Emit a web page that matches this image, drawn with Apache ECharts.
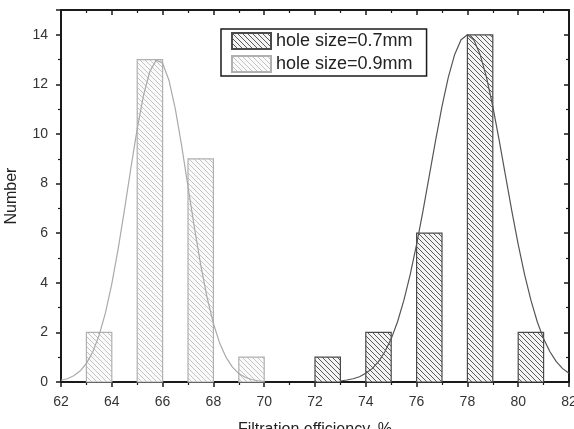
<!DOCTYPE html>
<html>
<head>
<meta charset="utf-8">
<script src="https://cdn.jsdelivr.net/npm/echarts@6/dist/echarts.min.js"></script>
<style>
html,body{margin:0;padding:0;background:#fff;}
#chart{width:574px;height:429px;}
</style>
</head>
<body>
<div id="chart"></div>
<script>
// ---- data ----
var seriesNames = ['hole size=0.7mm', 'hole size=0.9mm'];
// bins: [start, end, count]
var bins07 = [[72, 73, 1], [74, 75, 2], [76, 77, 6], [78, 79, 14], [80, 81, 2]];
var bins09 = [[63, 64, 2], [65, 66, 13], [67, 68, 9], [69, 70, 1]];
// fitted curves: [x, y]
var curve07 = [[73,0.04],[73.25,0.08],[73.5,0.13],[73.75,0.21],[74,0.35],[74.25,0.54],[74.5,0.82],[74.75,1.22],[75,1.74],[75.25,2.43],[75.5,3.30],[75.75,4.34],[76,5.55],[76.25,6.89],[76.5,8.32],[76.75,9.75],[77,11.11],[77.25,12.29],[77.5,13.21],[77.75,13.80],[78,14.0],[78.25,13.80],[78.5,13.21],[78.75,12.29],[79,11.11],[79.25,9.75],[79.5,8.32],[79.75,6.89],[80,5.55],[80.25,4.34],[80.5,3.30],[80.75,2.43],[81,1.74],[81.25,1.22],[81.5,0.82],[81.75,0.54],[82,0.35]];
var curve09 = [[62,0.07],[62.25,0.13],[62.5,0.25],[62.75,0.44],[63,0.75],[63.25,1.21],[63.5,1.88],[63.75,2.79],[64,3.96],[64.25,5.37],[64.5,6.95],[64.75,8.62],[65,10.21],[65.25,11.57],[65.5,12.53],[65.75,12.98],[66,12.85],[66.25,12.17],[66.5,11.01],[66.75,9.53],[67,7.88],[67.25,6.24],[67.5,4.72],[67.75,3.41],[68,2.36],[68.25,1.56],[68.5,0.99],[68.75,0.60],[69,0.34],[69.25,0.19],[69.5,0.10],[69.75,0.05],[70,0.02]];
var xMin = 62, xMax = 82, xInterval = 2;
var yMin = 0, yMax = 15, yInterval = 2;
var xTitle = 'Filtration efficiency, %';
var yTitle = 'Number';

// ---- styles ----
function hatch(lineColor, bg, size) {
  var c = document.createElement('canvas');
  c.width = size; c.height = size;
  var g = c.getContext('2d');
  g.fillStyle = bg; g.fillRect(0, 0, size, size);
  g.strokeStyle = lineColor; g.lineWidth = 1;
  g.beginPath();
  [-size, 0, size].forEach(function (k) {
    g.moveTo(k, 0); g.lineTo(k + size, size);
  });
  g.stroke();
  return {image: c, repeat: 'repeat'};
}
var pat07 = hatch('#5a5a5a', '#f4f4f4', 5);
var pat09 = hatch('#c4c4c4', '#fafafa', 5);
var border07 = '#4a4a4a';
var border09 = '#b0b0b0';

function barRender(params, api) {
  var p0 = api.coord([api.value(0), api.value(2)]);
  var p1 = api.coord([api.value(1), 0]);
  return {
    type: 'rect',
    shape: {x: p0[0], y: p0[1], width: p1[0] - p0[0], height: p1[1] - p0[1]},
    style: api.style()
  };
}

var axisCol = '#1a1a1a';
var font = 'Arial, "Liberation Sans", sans-serif';

var chart = echarts.init(document.getElementById('chart'), null, {renderer: 'canvas'});
chart.setOption({
  animation: false,
  backgroundColor: '#fff',
  grid: {left: 61, right: 5, top: 10, bottom: 47, containLabel: false, outerBoundsMode: 'none'},
  legend: {
    data: seriesNames,
    orient: 'vertical',
    left: 221, top: 29,
    itemWidth: 39, itemHeight: 16, itemGap: 5,
    padding: [3, 14, 3, 10],
    borderColor: '#1a1a1a', borderWidth: 1.5,
    icon: 'rect',
    textStyle: {fontFamily: font, fontSize: 18, color: '#222'}
  },
  xAxis: [{
    type: 'value', min: xMin, max: xMax, interval: xInterval,
    name: xTitle, nameLocation: 'middle', nameGap: 40,
    nameTextStyle: {fontFamily: font, fontSize: 16, color: '#222'},
    axisLine: {show: true, onZero: false, lineStyle: {color: axisCol, width: 2}},
    axisTick: {show: true, inside: false, length: 5, lineStyle: {color: axisCol, width: 1.5}},
    minorTick: {show: true, splitNumber: 2, length: 3, lineStyle: {color: axisCol, width: 1.2}},
    axisLabel: {fontFamily: font, fontSize: 14, color: '#333', margin: 13},
    splitLine: {show: false}
  }, {
    type: 'value', position: 'top', min: xMin, max: xMax, interval: xInterval,
    axisLine: {show: true, onZero: false, lineStyle: {color: axisCol, width: 2}},
    axisTick: {show: true, inside: true, length: 5, lineStyle: {color: axisCol, width: 1.5}},
    minorTick: {show: true, splitNumber: 2, length: 3, lineStyle: {color: axisCol, width: 1.2}},
    axisLabel: {show: false},
    splitLine: {show: false}
  }],
  yAxis: [{
    type: 'value', min: yMin, max: yMax, interval: yInterval,
    name: yTitle, nameLocation: 'middle', nameGap: 41,
    nameTextStyle: {fontFamily: font, fontSize: 16, color: '#222'},
    axisLine: {show: true, onZero: false, lineStyle: {color: axisCol, width: 2}},
    axisTick: {show: true, inside: false, length: 5, lineStyle: {color: axisCol, width: 1.5}},
    minorTick: {show: true, splitNumber: 2, length: 3, lineStyle: {color: axisCol, width: 1.2}},
    axisLabel: {fontFamily: font, fontSize: 14, color: '#333', margin: 13, showMaxLabel: false},
    splitLine: {show: false}
  }, {
    type: 'value', position: 'right', min: yMin, max: yMax, interval: yInterval,
    axisLine: {show: true, onZero: false, lineStyle: {color: axisCol, width: 2}},
    axisTick: {show: true, inside: true, length: 5, lineStyle: {color: axisCol, width: 1.5}},
    minorTick: {show: true, splitNumber: 2, length: 3, lineStyle: {color: axisCol, width: 1.2}},
    axisLabel: {show: false},
    splitLine: {show: false}
  }],
  series: [{
    name: seriesNames[0], type: 'custom', renderItem: barRender,
    encode: {x: [0, 1], y: 2},
    itemStyle: {color: pat07, borderColor: border07, borderWidth: 1.2},
    data: bins07, z: 2
  }, {
    name: seriesNames[1], type: 'custom', renderItem: barRender,
    encode: {x: [0, 1], y: 2},
    itemStyle: {color: pat09, borderColor: border09, borderWidth: 1.2},
    data: bins09, z: 2
  }, {
    name: 'fit 0.7', type: 'line', data: curve07, showSymbol: false, smooth: false,
    lineStyle: {color: '#555', width: 1.2}, z: 3
  }, {
    name: 'fit 0.9', type: 'line', data: curve09, showSymbol: false, smooth: false,
    lineStyle: {color: '#aaa', width: 1.2}, z: 3
  }]
});
</script>
</body>
</html>
